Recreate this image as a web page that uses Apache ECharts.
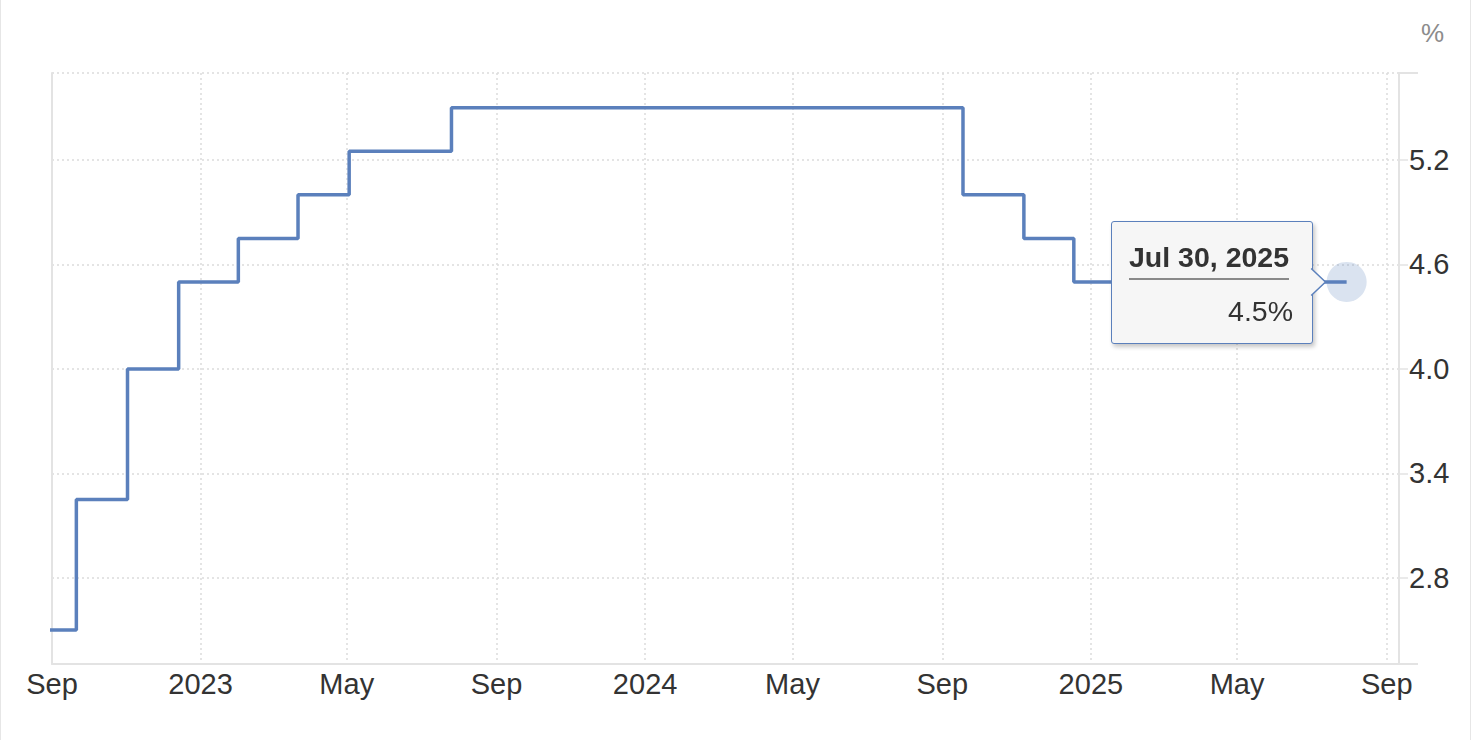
<!DOCTYPE html>
<html><head><meta charset="utf-8">
<script src="https://cdn.jsdelivr.net/npm/echarts@6/dist/echarts.min.js"></script>
<style>
html,body{margin:0;padding:0;background:#fff;}
#frame{position:absolute;left:0;top:0;width:1471px;height:740px;box-sizing:border-box;border-left:1px solid #e6e6e6;border-right:1px solid #e6e6e6;}
#chart{position:absolute;left:0;top:0;width:1472px;height:740px;}
</style>
</head><body><div id="frame"></div><div id="chart"></div>
<script>
// ---- data ----
const dates = ['2022-07-27','2022-09-21','2022-11-02','2022-12-14','2023-02-01','2023-03-22','2023-05-03','2023-07-26','2024-09-18','2024-11-07','2024-12-18','2025-07-30'];
const rates = [2.5, 3.25, 4.0, 4.5, 4.75, 5.0, 5.25, 5.5, 5.0, 4.75, 4.5, 4.5];
const xTickDates = ['2022-09-01','2023-01-01','2023-05-01','2023-09-01','2024-01-01','2024-05-01','2024-09-01','2025-01-01','2025-05-01','2025-09-01'];
const yTicks = [2.8, 3.4, 4.0, 4.6, 5.2];
const monthNames = ['Jan','Feb','Mar','Apr','May','Jun','Jul','Aug','Sep','Oct','Nov','Dec'];
const xMin = '2022-09-01', xMax = '2025-09-11';
const yMin = 2.305, yMax = 5.70;
const unit = '%';

const FONT = '"Liberation Sans", Arial, Helvetica, sans-serif';
const LINE = '#5b80bc';
const GRID = '#dcdcdc';
const AXIS = '#e3e3e3';

function toTs(s){ const p = s.split('-').map(Number); return new Date(p[0], p[1]-1, p[2]).getTime(); }
const seriesData = dates.map((d,i)=>[toTs(d), rates[i]]);
const last = seriesData[seriesData.length-1];
const lastDate = new Date(last[0]);
const tipTitle = monthNames[lastDate.getMonth()] + ' ' + lastDate.getDate() + ', ' + lastDate.getFullYear();
const tipValue = last[1].toFixed(1) + unit;

const chart = echarts.init(document.getElementById('chart'), null, {renderer:'svg'});
const dotted = {color: GRID, width: 1.5, type: [2, 3]};

const option = {
  animation: false,
  title: {text: unit, left: 1416, top: 15, textStyle:{fontFamily: FONT, fontSize: 26, fontWeight:'normal', color:'#8c8c8c'}},
  grid: {left: 52, right: 73, top: 73, bottom: 76, containLabel: false, outerBoundsMode: 'none'},
  xAxis: [{
    type: 'value', min: toTs(xMin), max: toTs(xMax),
    axisLine: {show: true, onZero: false, lineStyle: {color: AXIS, width: 2}},
    axisTick: {show: false, customValues: xTickDates.map(toTs)},
    axisLabel: {
      customValues: xTickDates.map(toTs), margin: 5, hideOverlap: false,
      showMinLabel: true, showMaxLabel: true,
      fontFamily: FONT, fontSize: 29, color: '#333',
      formatter: v => { const d = new Date(v); return d.getMonth()===0 ? String(d.getFullYear()) : monthNames[d.getMonth()]; }
    },
    splitLine: {show: true, lineStyle: dotted}
  }],
  yAxis: [{
    type: 'value', position: 'right', min: yMin, max: yMax,
    axisLine: {show: true, lineStyle: {color: AXIS, width: 2}},
    axisTick: {show: true, length: 9, customValues: yTicks.concat([yMax]), lineStyle:{color: AXIS, width: 1.5}},
    axisLabel: {customValues: yTicks, margin: 10, fontFamily: FONT, fontSize: 29, color: '#333', formatter: v => v.toFixed(1)},
    splitLine: {show: true, lineStyle: dotted}
  },{
    type: 'value', position: 'right', min: yMin, max: yMax,
    axisLine: {show: false},
    axisTick: {show: true, length: 19, customValues: [yMin, yMax], lineStyle:{color: AXIS, width: 2}},
    axisLabel: {show: false},
    splitLine: {show: false}
  },{
    type: 'value', position: 'left', min: yMin, max: yMax,
    axisLine: {show: true, onZero: false, lineStyle: {color: AXIS, width: 2}},
    axisTick: {show: false}, axisLabel: {show: false}, splitLine: {show: false}
  }],
  tooltip: {
    trigger: 'item', triggerOn: 'none', alwaysShowContent: true, transitionDuration: 0,
    padding: 0, borderWidth: 0, backgroundColor: 'transparent', extraCssText: 'box-shadow:none;',
    position: (point) => [point[0] - 35 - 201, point[1] - 61],
    formatter: () => (
      '<div style="position:relative;width:202px;height:123px;box-sizing:border-box;background:#f6f6f6;border:1.5px solid '+LINE+';border-radius:3px;box-shadow:2px 3px 4px rgba(0,0,0,0.22);font-family:'+FONT.replace(/"/g,"'")+';color:#333;">' +
        '<div style="position:absolute;left:17px;top:20px;font-size:28.5px;font-weight:bold;line-height:30px;padding-bottom:6px;border-bottom:2px solid #8a8a8a;white-space:nowrap;">' + tipTitle + '</div>' +
        '<div style="position:absolute;right:19px;top:74px;font-size:28.5px;line-height:30px;white-space:nowrap;">' + tipValue + '</div>' +
        '<svg style="position:absolute;left:197px;top:45px;overflow:visible" width="20" height="30">' +
          '<polygon points="0,2 3,2 16.5,15 3,28 0,28" fill="#f6f6f6"/>' +
          '<polyline points="2.2,1.5 16.5,15 2.2,28.5" fill="none" stroke="'+LINE+'" stroke-width="1.5"/>' +
        '</svg>' +
      '</div>')
  },
  series: [{
    type: 'line', step: 'end', data: seriesData, showSymbol: false, z: 3,
    lineStyle: {color: LINE, width: 3.5}, itemStyle:{color: LINE}, silent: true
  },{
    type: 'scatter', data: [last], symbolSize: 40, z: 2,
    itemStyle: {color: 'rgba(91,128,188,0.28)'}, emphasis: {disabled: true}
  }]
};
chart.setOption(option);
chart.dispatchAction({type: 'showTip', seriesIndex: 1, dataIndex: 0});
</script>
</body></html>
